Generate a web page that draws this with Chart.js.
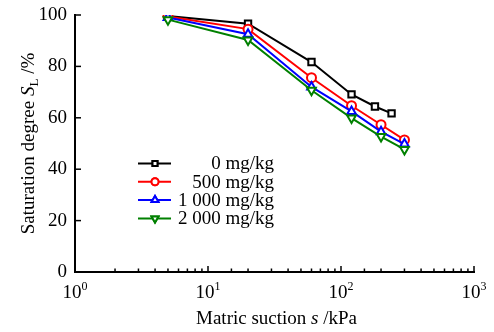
<!DOCTYPE html>
<html lang="en">
<head>
    <meta charset="UTF-8">
    <title>Saturation degree vs matric suction</title>
    <script src="https://cdn.jsdelivr.net/npm/chart.js"></script>
    <style>
        body { margin: 0; background: #fff; }
        .wrap { width: 494px; height: 332px; position: relative; }
    </style>
</head>
<body>
    <div class="wrap"><canvas id="swcc"></canvas></div>

    <script>
        // Data
        const suction0 = [5, 20, 60, 120, 180, 240];
        const sat0 = [99.6, 96.6, 81.7, 69.1, 64.4, 61.7];

        const suction = [5, 20, 60, 120, 200, 300];
        const sat500 = [99.4, 94.5, 75.6, 64.7, 57.3, 51.4];
        const sat1000 = [99.0, 92.5, 72.0, 62.5, 54.6, 49.8];
        const sat2000 = [98.2, 90.3, 70.7, 59.9, 52.7, 47.7];

        const seriesNames = ['0 mg/kg', '500 mg/kg', '1 000 mg/kg', '2 000 mg/kg'];
        const xTickValues = [1, 10, 100, 1000];
        const xTickExps = ['0', '1', '2', '3'];

        const FONT = '"Liberation Serif", "Times New Roman", serif';

        function pts(xs, ys) {
            return xs.map((x, i) => ({ x: x, y: ys[i] }));
        }

        function makeSet(label, xs, ys, color, style, rot, r, order) {
            return {
                label: label,
                data: pts(xs, ys),
                borderColor: color,
                backgroundColor: '#fff',
                borderWidth: 2,
                pointStyle: style,
                rotation: rot,
                pointRadius: r,
                pointBorderWidth: 2,
                pointBackgroundColor: '#fff',
                tension: 0,
                order: order
            };
        }

        const datasets = [
            makeSet(seriesNames[0], suction0, sat0, '#000', 'rect', 0, 4.5, 4),
            makeSet(seriesNames[1], suction, sat500, '#ff0000', 'circle', 0, 4.5, 3),
            makeSet(seriesNames[2], suction, sat1000, '#0000ff', 'triangle', 0, 5, 2),
            makeSet(seriesNames[3], suction, sat2000, '#008000', 'triangle', 180, 5, 1)
        ];

        // inward ticks, x labels with superscripts, axis titles, legend
        const decorations = {
            id: 'decorations',
            afterDraw(chart) {
                const c = chart.ctx;
                const xs = chart.scales.x, ys = chart.scales.y;
                const area = chart.chartArea;
                c.save();
                c.strokeStyle = '#000';
                c.lineWidth = 1.5;

                // x ticks (major + minor)
                xs.ticks.forEach(t => {
                    const px = xs.getPixelForValue(t.value);
                    const lg = Math.log10(t.value);
                    const major = Math.abs(lg - Math.round(lg)) < 1e-9;
                    c.beginPath();
                    c.moveTo(px, area.bottom);
                    c.lineTo(px, area.bottom - (major ? 6 : 3.5));
                    c.stroke();
                });
                // y ticks
                ys.ticks.forEach(t => {
                    const py = ys.getPixelForValue(t.value);
                    c.beginPath();
                    c.moveTo(area.left, py);
                    c.lineTo(area.left + 6, py);
                    c.stroke();
                });

                // x tick labels 10^n
                c.fillStyle = '#000';
                c.textBaseline = 'alphabetic';
                xTickValues.forEach((v, i) => {
                    const px = xs.getPixelForValue(v);
                    c.font = '19px ' + FONT;
                    const wb = c.measureText('10').width;
                    c.font = '12px ' + FONT;
                    const we = c.measureText(xTickExps[i]).width;
                    const x0 = px - (wb + we) / 2;
                    c.font = '19px ' + FONT;
                    c.textAlign = 'left';
                    c.fillText('10', x0, area.bottom + 25.5);
                    c.font = '12px ' + FONT;
                    c.fillText(xTickExps[i], x0 + wb, area.bottom + 17.5);
                });

                // x title: Matric suction s /kPa
                const xParts = [
                    ['Matric suction ', '19px ' + FONT, 0],
                    ['s', 'italic 19px ' + FONT, 0],
                    [' /kPa', '19px ' + FONT, 0]
                ];
                drawRich(c, xParts, (area.left + area.right) / 2 + 2, area.bottom + 52);

                // y title: Saturation degree S_L /%
                c.save();
                c.translate(28, (area.top + area.bottom) / 2);
                c.rotate(-Math.PI / 2);
                const yParts = [
                    ['Saturation degree ', '19px ' + FONT, 0],
                    ['S', 'italic 19px ' + FONT, 0],
                    ['L', '13px ' + FONT, 4],
                    [' /%', '19px ' + FONT, 0]
                ];
                drawRich(c, yParts, 0, 5.5);
                c.restore();

                // legend
                const lx0 = area.left + 63, lx1 = area.left + 96, lm = area.left + 80;
                const textRight = area.left + 199;
                chart.data.datasets.forEach((ds, i) => {
                    const ly = area.top + 148.5 + i * 18.3;
                    c.strokeStyle = ds.borderColor;
                    c.lineWidth = 2;
                    c.beginPath();
                    c.moveTo(lx0, ly);
                    c.lineTo(lx1, ly);
                    c.stroke();
                    Chart.helpers.drawPoint(c, {
                        pointStyle: ds.pointStyle,
                        rotation: ds.rotation,
                        radius: ds.pointRadius - 1,
                        borderWidth: 2
                    }, lm, ly);
                    c.fillStyle = '#fff';
                    c.fill();
                    c.stroke();
                    c.fillStyle = '#000';
                    c.font = '19px ' + FONT;
                    c.textAlign = 'right';
                    c.textBaseline = 'middle';
                    c.fillText(ds.label, textRight, ly + 1);
                });
                c.restore();
            }
        };

        function drawRich(c, parts, cx, baseY) {
            let total = 0;
            parts.forEach(p => { c.font = p[1]; total += c.measureText(p[0]).width; });
            let x = cx - total / 2;
            c.textAlign = 'left';
            c.textBaseline = 'alphabetic';
            c.fillStyle = '#000';
            parts.forEach(p => {
                c.font = p[1];
                c.fillText(p[0], x, baseY + p[2]);
                x += c.measureText(p[0]).width;
            });
        }

        const ctx = document.getElementById('swcc').getContext('2d');

        new Chart(ctx, {
            type: 'line',
            data: { datasets: datasets },
            options: {
                responsive: true,
                maintainAspectRatio: false,
                animation: false,
                layout: { padding: { top: 15, right: 20, left: 0, bottom: 0 } },
                plugins: {
                    legend: { display: false },
                    tooltip: { enabled: false }
                },
                scales: {
                    x: {
                        type: 'logarithmic',
                        min: 1,
                        max: 1000,
                        grid: { display: false, drawTicks: false },
                        border: { display: true, color: '#000', width: 2 },
                        ticks: {
                            autoSkip: false,
                            callback: () => ''
                        },
                        afterFit: s => { s.height = 60; }
                    },
                    y: {
                        min: 0,
                        max: 100,
                        grid: { display: false, drawTicks: false },
                        border: { display: true, color: '#000', width: 2 },
                        ticks: {
                            stepSize: 20,
                            padding: 8,
                            color: '#000',
                            font: { family: FONT, size: 19 }
                        },
                        afterFit: s => {
                            s.width = 75;
                            s.paddingTop = 0;
                            s.paddingBottom = 0;
                        }
                    }
                }
            },
            plugins: [decorations]
        });
    </script>
</body>
</html>
